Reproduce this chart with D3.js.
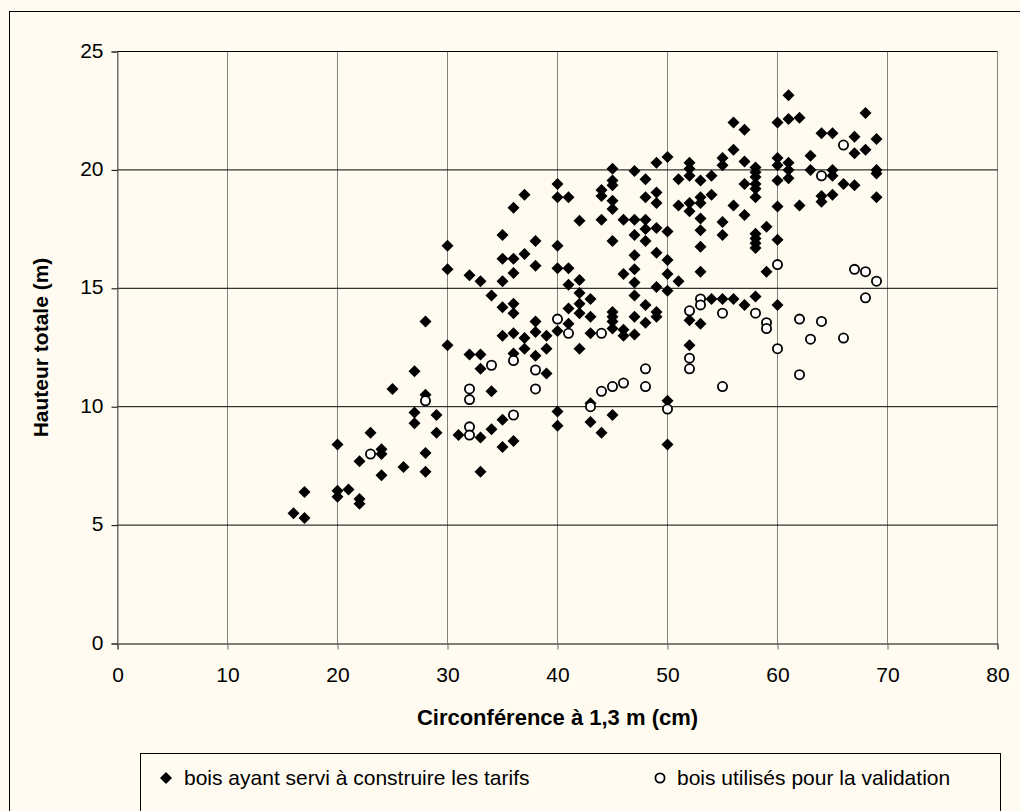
<!DOCTYPE html>
<html>
<head>
<meta charset="utf-8">
<script src="https://cdn.jsdelivr.net/npm/d3@7"></script>
<style>
	body { margin: 0; background: #fffbf0; }
	svg { display: block; font-family: "Liberation Sans", Arial, sans-serif; }
</style>
</head>
<body>
<svg width="1020" height="811"></svg>
<script>
// bois ayant servi à construire les tarifs : [circonférence (cm), hauteur (m)]
const tarifs = [
	[16, 5.5], [17, 5.3], [17, 6.4],
	[20, 8.4], [20, 6.45], [20, 6.2], [21, 6.5],
	[22, 7.7], [22, 6.1], [22, 5.9], [23, 8.9],
	[24, 8.2], [24, 8.0], [24, 7.1], [25, 10.75], [26, 7.45],
	[27, 11.5], [27, 9.75], [27, 9.3],
	[28, 13.6], [28, 10.5], [28, 8.05], [28, 7.25],
	[29, 9.65], [29, 8.9],
	[30, 16.8], [30, 15.8], [30, 12.6], [31, 8.8],
	[32, 15.55], [32, 12.2],
	[33, 15.3], [33, 12.2], [33, 11.6], [33, 8.7], [33, 7.25],
	[34, 14.7], [34, 10.65], [34, 9.05],
	[35, 17.25], [35, 16.25], [35, 15.3], [35, 14.2], [35, 13.0], [35, 9.45], [35, 8.3],
	[36, 18.4], [36, 16.25], [36, 15.65], [36, 14.35], [36, 13.95], [36, 13.1], [36, 12.25], [36, 8.55],
	[37, 18.95], [37, 16.45], [37, 12.9], [37, 12.45],
	[38, 17.0], [38, 15.95], [38, 13.6], [38, 13.15], [38, 12.15],
	[39, 13.0], [39, 12.45], [39, 11.4],
	[40, 19.4], [40, 18.85], [40, 16.8], [40, 15.85], [40, 13.2], [40, 9.8], [40, 9.2],
	[41, 18.85], [41, 15.85], [41, 15.15], [41, 14.15], [41, 13.5],
	[42, 17.85], [42, 15.35], [42, 14.8], [42, 14.35], [42, 13.95], [42, 12.45],
	[43, 14.55], [43, 13.8], [43, 13.1], [43, 10.15], [43, 9.35],
	[44, 19.15], [44, 18.9], [44, 17.9], [44, 8.9],
	[45, 20.05], [45, 19.55], [45, 19.35], [45, 18.7], [45, 18.35], [45, 17.0], [45, 14.0], [45, 13.8], [45, 13.6], [45, 13.3], [45, 9.65],
	[46, 17.9], [46, 15.6], [46, 13.25], [46, 13.0],
	[47, 19.95], [47, 17.9], [47, 17.25], [47, 16.4], [47, 15.8], [47, 15.25], [47, 14.7], [47, 13.8], [47, 13.05],
	[48, 19.6], [48, 18.85], [48, 17.9], [48, 17.5], [48, 17.0], [48, 14.3], [48, 13.55],
	[49, 20.3], [49, 19.05], [49, 18.6], [49, 17.55], [49, 16.5], [49, 15.05], [49, 14.0], [49, 13.8],
	[50, 20.55], [50, 17.4], [50, 16.2], [50, 15.6], [50, 14.9], [50, 10.25], [50, 8.4],
	[51, 19.6], [51, 18.5], [51, 15.3],
	[52, 20.3], [52, 20.05], [52, 19.75], [52, 18.6], [52, 18.25], [52, 13.65], [52, 12.6],
	[53, 19.55], [53, 18.85], [53, 18.6], [53, 17.95], [53, 17.45], [53, 16.75], [53, 15.7], [53, 13.5],
	[54, 19.75], [54, 18.95], [54, 14.55],
	[55, 20.5], [55, 20.2], [55, 17.8], [55, 17.25], [55, 14.55],
	[56, 22.0], [56, 20.85], [56, 18.5], [56, 14.55],
	[57, 21.7], [57, 20.35], [57, 19.4], [57, 18.1], [57, 14.3],
	[58, 20.1], [58, 19.9], [58, 19.7], [58, 19.4], [58, 19.2], [58, 18.85], [58, 17.3], [58, 17.1], [58, 16.9], [58, 16.7], [58, 14.65],
	[59, 17.6], [59, 15.7],
	[60, 22.0], [60, 20.5], [60, 20.2], [60, 19.55], [60, 18.45], [60, 17.05], [60, 14.3],
	[61, 23.15], [61, 22.15], [61, 20.3], [61, 20.0], [61, 19.65],
	[62, 22.2], [62, 18.5],
	[63, 20.6], [63, 20.0],
	[64, 21.55], [64, 18.9], [64, 18.65],
	[65, 21.55], [65, 20.0], [65, 19.75], [65, 18.95],
	[66, 19.4],
	[67, 21.4], [67, 20.7], [67, 19.35],
	[68, 22.4], [68, 20.85],
	[69, 21.3], [69, 20.0], [69, 19.85], [69, 18.85]
]

// bois utilisés pour la validation
const validation = [
	[23, 8.0], [28, 10.25], [32, 10.75], [32, 10.3], [32, 9.15], [32, 8.8],
	[34, 11.75], [36, 11.95], [36, 9.65], [38, 11.55], [38, 10.75],
	[40, 13.7], [41, 13.1], [43, 10.0], [44, 13.1], [44, 10.65], [45, 10.85], [46, 11.0],
	[48, 11.6], [48, 10.85], [50, 9.9], [52, 14.05], [52, 12.05], [52, 11.6],
	[53, 14.55], [53, 14.3], [55, 13.95], [55, 10.85], [58, 13.95], [59, 13.55], [59, 13.3],
	[60, 16.0], [60, 12.45], [62, 13.7], [62, 11.35], [63, 12.85], [64, 19.75], [64, 13.6],
	[66, 21.05], [66, 12.9], [67, 15.8], [68, 15.7], [68, 14.6], [69, 15.3]
]

const xTicks = [0, 10, 20, 30, 40, 50, 60, 70, 80]
const yTicks = [0, 5, 10, 15, 20, 25]
const xTitle = 'Circonférence à 1,3 m (cm)'
const yTitle = 'Hauteur totale (m)'
const legendLabels = ['bois ayant servi à construire les tarifs', 'bois utilisés pour la validation']

const svg = d3.select('svg')
const diamond = 'M0,-6L6,0L0,6L-6,0Z'

let xScale = d3.scaleLinear().domain([0, 80]).range([117.5, 997.5])
let yScale = d3.scaleLinear().domain([0, 25]).range([643.5, 51.5])

// fond et cadre du graphique
svg.append('rect')
	.attr('x', 0).attr('y', 0).attr('width', 1020).attr('height', 811)
	.attr('fill', '#fffbf0')
svg.append('rect')
	.attr('x', 9.5).attr('y', 11.5).attr('width', 1040).attr('height', 840)
	.attr('fill', 'none').attr('stroke', '#000').attr('stroke-width', 1)

// quadrillage
svg.append('g').attr('id', 'grid-x')
	.selectAll('line')
	.data(xTicks)
	.enter()
	.append('line')
	.attr('x1', d => xScale(d)).attr('x2', d => xScale(d))
	.attr('y1', yScale(25)).attr('y2', yScale(0))
	.attr('stroke', '#808080')
svg.append('g').attr('id', 'grid-y')
	.selectAll('line')
	.data(yTicks.slice(1))
	.enter()
	.append('line')
	.attr('x1', xScale(0)).attr('x2', xScale(80))
	.attr('y1', d => yScale(d)).attr('y2', d => yScale(d))
	.attr('stroke', '#000')

// axes
let bottomAxisG = svg.append('g')
	.attr('id', 'bottom-axis')
	.attr('transform', `translate(0, ${yScale(0)})`)
bottomAxisG.call(d3.axisBottom(xScale).tickValues(xTicks).tickSizeOuter(0).tickSize(6))
bottomAxisG.select('.domain').attr('stroke', '#000')
bottomAxisG.selectAll('.tick line').attr('stroke', '#666')
bottomAxisG.selectAll('text')
	.attr('y', 38).attr('dy', null)
	.attr('font-size', 21).attr('fill', '#000')
	.attr('font-family', '"Liberation Sans", Arial, sans-serif')

let leftAxisG = svg.append('g')
	.attr('id', 'left-axis')
	.attr('transform', `translate(${xScale(0)}, 0)`)
leftAxisG.call(d3.axisLeft(yScale).tickValues(yTicks).tickSizeOuter(0).tickSize(6))
leftAxisG.select('.domain').attr('stroke', '#666')
leftAxisG.selectAll('.tick line').attr('stroke', '#000')
leftAxisG.selectAll('text')
	.attr('x', -14).attr('dy', '0.27em')
	.attr('font-size', 21).attr('fill', '#000')
	.attr('font-family', '"Liberation Sans", Arial, sans-serif')

// titres des axes
svg.append('text')
	.attr('x', (xScale(0) + xScale(80)) / 2).attr('y', 725)
	.attr('text-anchor', 'middle')
	.attr('font-size', 22).attr('font-weight', 'bold')
	.text(xTitle)
svg.append('text')
	.attr('transform', `translate(48, ${(yScale(0) + yScale(25)) / 2}) rotate(-90)`)
	.attr('text-anchor', 'middle')
	.attr('font-size', 21).attr('font-weight', 'bold')
	.text(yTitle)

// points
svg.append('g').attr('id', 'tarifs')
	.selectAll('path')
	.data(tarifs)
	.enter()
	.append('path')
	.attr('d', diamond)
	.attr('transform', d => `translate(${xScale(d[0])}, ${yScale(d[1])})`)
	.attr('fill', '#000')

svg.append('g').attr('id', 'validation')
	.selectAll('circle')
	.data(validation)
	.enter()
	.append('circle')
	.attr('cx', d => xScale(d[0]))
	.attr('cy', d => yScale(d[1]))
	.attr('r', 4.6)
	.attr('fill', '#fff')
	.attr('stroke', '#000')
	.attr('stroke-width', 1.8)

// légende
let legendG = svg.append('g').attr('id', 'legend')
legendG.append('rect')
	.attr('x', 140.5).attr('y', 753.5).attr('width', 860).attr('height', 100)
	.attr('fill', '#fffbf0').attr('stroke', '#000')
legendG.append('path')
	.attr('d', diamond)
	.attr('transform', 'translate(166, 778)')
	.attr('fill', '#000')
legendG.append('text')
	.attr('x', 184).attr('y', 785)
	.attr('font-size', 21)
	.text(legendLabels[0])
legendG.append('circle')
	.attr('cx', 660).attr('cy', 778).attr('r', 4.6)
	.attr('fill', '#fff').attr('stroke', '#000').attr('stroke-width', 1.8)
legendG.append('text')
	.attr('x', 677).attr('y', 785)
	.attr('font-size', 21)
	.text(legendLabels[1])
</script>
</body>
</html>
